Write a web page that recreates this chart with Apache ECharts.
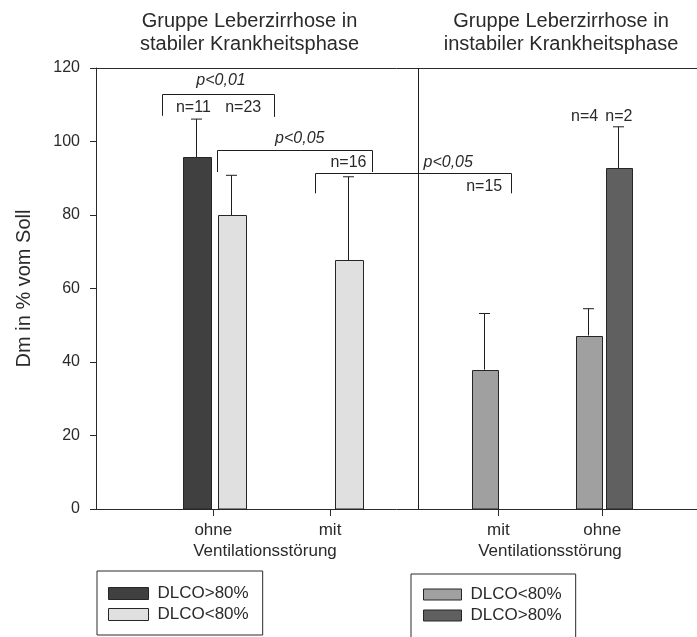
<!DOCTYPE html>
<html>
<head>
<meta charset="utf-8">
<script src="https://cdn.jsdelivr.net/npm/echarts@6/dist/echarts.min.js"></script>
<style>
  html, body { margin: 0; padding: 0; background: #fff; }
  #chart { width: 697px; height: 637px; }
</style>
</head>
<body>
<div id="chart"></div>
<script>
// Dm in % of predicted, by ventilation disorder, DLCO group and disease phase

const categories = ['ohne', 'mit', 'mit', 'ohne'];
const groupTitles = ['Gruppe Leberzirrhose in\nstabiler Krankheitsphase',
                     'Gruppe Leberzirrhose in\ninstabiler Krankheitsphase'];
const xAxisTitle = 'Ventilationsstörung';
const yAxisTitle = 'Dm in % vom Soll';
const yTickLabels = [0, 20, 40, 60, 80, 100, 120];

// stable phase, DLCO > 80 %
const stableHighMean  = [95.7, null, null, null];
const stableHighUpper = [106.1, null, null, null];
// stable phase, DLCO < 80 %
const stableLowMean   = [80.0, 67.7, null, null];
const stableLowUpper  = [90.8, 90.4, null, null];
// unstable phase, DLCO < 80 %
const unstableLowMean  = [null, null, 37.9, 47.2];
const unstableLowUpper = [null, null, 53.2, 54.5];
// unstable phase, DLCO > 80 %
const unstableHighMean  = [null, null, null, 92.8];
const unstableHighUpper = [null, null, null, 104.0];

const groupSizes = ['n=11', 'n=23', 'n=16', 'n=15', 'n=4', 'n=2'];
const pValues = ['p<0,01', 'p<0,05', 'p<0,05'];
const legendLeft = ['DLCO>80%', 'DLCO<80%'];
const legendRight = ['DLCO<80%', 'DLCO>80%'];

// ---- layout (x in axis units 0..100, y in value units) ----
const slotX = [19.52, 38.94, 66.94, 84.24];
const dividerX = 53.58;
const sizeLabelPos = [[16.2, 109.3], [24.5, 109.3], [42.0, 94.2], [64.6, 87.8], [81.3, 106.8], [87.0, 106.8]];
const pLabelPos = [[20.8, 116.5], [33.9, 100.7], [58.6, 94.4]];
// [x1, x2, yLine, yLeftEnd, yRightEnd]
const brackets = [
  [11.03, 29.62, 112.8, 107.0, 106.7],
  [20.18, 45.97, 97.7, 91.7, 91.7],
  [36.44, 69.05, 91.5, 85.9, 85.9]
];

const FONT = '"Liberation Sans", Arial, sans-serif';
const INK = '#2a2a2a';

function barSeries(name, color, mean, upper, offset, width) {
  const data = [];
  mean.forEach((m, i) => { if (m != null) data.push([slotX[i], m, upper[i]]); });
  return {
    name: name,
    type: 'custom',
    coordinateSystem: 'cartesian2d',
    itemStyle: { color: color },
    encode: { x: 0, y: 1 },
    data: data,
    z: 3,
    renderItem: function (params, api) {
      const x = api.value(0), m = api.value(1), u = api.value(2);
      const base = api.coord([x, 0]);
      const top = api.coord([x, m]);
      const err = api.coord([x, u]);
      const cx = Math.round(base[0] + offset) + 0.5;
      const left = Math.round(cx - width / 2) + 0.5;
      return {
        type: 'group',
        children: [
          { type: 'line', shape: { x1: cx, y1: top[1], x2: cx, y2: err[1] },
            style: { stroke: '#1e1e1e', lineWidth: 1 } },
          { type: 'line', shape: { x1: cx - 5.5, y1: err[1], x2: cx + 5.5, y2: err[1] },
            style: { stroke: '#1e1e1e', lineWidth: 1 } },
          { type: 'rect', shape: { x: left, y: Math.round(top[1]) + 0.5, width: width, height: base[1] - Math.round(top[1]) - 0.5 },
            style: { fill: color, stroke: '#262626', lineWidth: 1 } }
        ]
      };
    }
  };
}

// brackets with p-values and group size labels
const annotationSeries = {
  type: 'custom',
  coordinateSystem: 'cartesian2d',
  silent: true,
  z: 4,
  data: [0],
  renderItem: function (params, api) {
    const children = [];
    brackets.forEach(b => {
      const a = api.coord([b[0], b[2]]);
      const c = api.coord([b[1], b[2]]);
      const l = api.coord([b[0], b[3]]);
      const r = api.coord([b[1], b[4]]);
      children.push({ type: 'polyline',
        shape: { points: [[Math.round(l[0]) + 0.5, l[1]], [Math.round(a[0]) + 0.5, Math.round(a[1]) + 0.5],
                          [Math.round(c[0]) + 0.5, Math.round(c[1]) + 0.5], [Math.round(r[0]) + 0.5, r[1]]] },
        style: { stroke: '#1e1e1e', lineWidth: 1, fill: null } });
    });
    pValues.forEach((t, i) => {
      const p = api.coord(pLabelPos[i]);
      children.push({ type: 'text', x: p[0], y: p[1],
        style: { text: t, fill: INK, font: 'italic 16px ' + FONT, align: 'center', verticalAlign: 'middle' } });
    });
    groupSizes.forEach((t, i) => {
      const p = api.coord(sizeLabelPos[i]);
      children.push({ type: 'text', x: p[0], y: p[1],
        style: { text: t, fill: INK, font: '16px ' + FONT, align: 'center', verticalAlign: 'middle' } });
    });
    const d0 = api.coord([dividerX, 0]);
    const d1 = api.coord([dividerX, 120]);
    const dx = Math.round(d0[0]) + 0.5;
    children.push({ type: 'line', shape: { x1: dx, y1: d0[1], x2: dx, y2: d1[1] },
      style: { stroke: '#1e1e1e', lineWidth: 1 } });
    return { type: 'group', children: children };
  }
};

const chart = echarts.init(document.getElementById('chart'), null, { renderer: 'canvas' });

const legendCommon = {
  orient: 'vertical',
  icon: 'rect',
  borderColor: '#2a2a2a',
  borderWidth: 1,
  itemGap: 4,
  selectedMode: false,
  itemStyle: { borderColor: '#262626', borderWidth: 1 },
  textStyle: { fontFamily: FONT, fontSize: 17, color: INK, padding: [0, 0, 0, 4] },
  formatter: name => name.split(': ')[1]
};

chart.setOption({
  animation: false,
  backgroundColor: '#fff',
  grid: { left: 96, right: 0, top: 68, bottom: 128, containLabel: false },
  xAxis: [{
    type: 'value', min: 0, max: 100,
    splitLine: { show: false },
    axisLine: { show: true, lineStyle: { color: '#2a2a2a', width: 1 } },
    axisTick: { show: true, length: 7, customValues: slotX, lineStyle: { color: '#2a2a2a' } },
    axisLabel: {
      show: true, customValues: slotX, margin: 13,
      fontFamily: FONT, fontSize: 17, color: INK,
      formatter: v => categories[slotX.indexOf(v)]
    }
  }, {
    type: 'value', min: 0, max: 100, position: 'top',
    splitLine: { show: false },
    axisLine: { show: true, onZero: false, lineStyle: { color: '#2a2a2a', width: 1 } },
    axisTick: { show: false },
    axisLabel: { show: false }
  }],
  yAxis: {
    type: 'value', min: 0, max: 120, interval: 20,
    name: yAxisTitle, nameLocation: 'middle', nameGap: 62,
    nameTextStyle: { fontFamily: FONT, fontSize: 20, color: INK },
    splitLine: { show: false },
    axisLine: { show: true, lineStyle: { color: '#2a2a2a', width: 1 } },
    axisTick: { show: true, length: 6, lineStyle: { color: '#2a2a2a' } },
    axisLabel: { margin: 16, fontFamily: FONT, fontSize: 16, color: INK,
      formatter: v => yTickLabels.indexOf(v) >= 0 ? String(v) : '' }
  },
  legend: [
    Object.assign({}, legendCommon, {
      left: 97, top: 571, height: 44,
      itemWidth: 40, itemHeight: 12,
      padding: [14, 14, 12, 11],
      data: ['stabil: ' + legendLeft[0], 'stabil: ' + legendLeft[1]]
    }),
    Object.assign({}, legendCommon, {
      left: 411, top: 574, height: 44,
      itemWidth: 38, itemHeight: 11,
      padding: [12, 14, 30, 12],
      data: ['instabil: ' + legendRight[0], 'instabil: ' + legendRight[1]]
    })
  ],
  graphic: [
    { type: 'text', x: 249.5, y: 9.5, silent: true,
      style: { text: groupTitles[0], fill: INK, font: '20px ' + FONT, lineHeight: 23, align: 'center', verticalAlign: 'top' } },
    { type: 'text', x: 561, y: 9.5, silent: true,
      style: { text: groupTitles[1], fill: INK, font: '20px ' + FONT, lineHeight: 23, align: 'center', verticalAlign: 'top' } },
    { type: 'text', x: 265, y: 543, silent: true,
      style: { text: xAxisTitle, fill: INK, font: '17px ' + FONT, align: 'center', verticalAlign: 'top' } },
    { type: 'text', x: 550, y: 543, silent: true,
      style: { text: xAxisTitle, fill: INK, font: '17px ' + FONT, align: 'center', verticalAlign: 'top' } }
  ],
  series: [
    barSeries('stabil: ' + legendLeft[0], '#404040', stableHighMean, stableHighUpper, -17.5, 28),
    barSeries('stabil: ' + legendLeft[1], '#e0e0e0', stableLowMean, stableLowUpper, 17.5, 28),
    barSeries('instabil: ' + legendRight[0], '#a0a0a0', unstableLowMean, unstableLowUpper, -14.5, 26),
    barSeries('instabil: ' + legendRight[1], '#606060', unstableHighMean, unstableHighUpper, 16, 26),
    annotationSeries
  ]
});
</script>
</body>
</html>
